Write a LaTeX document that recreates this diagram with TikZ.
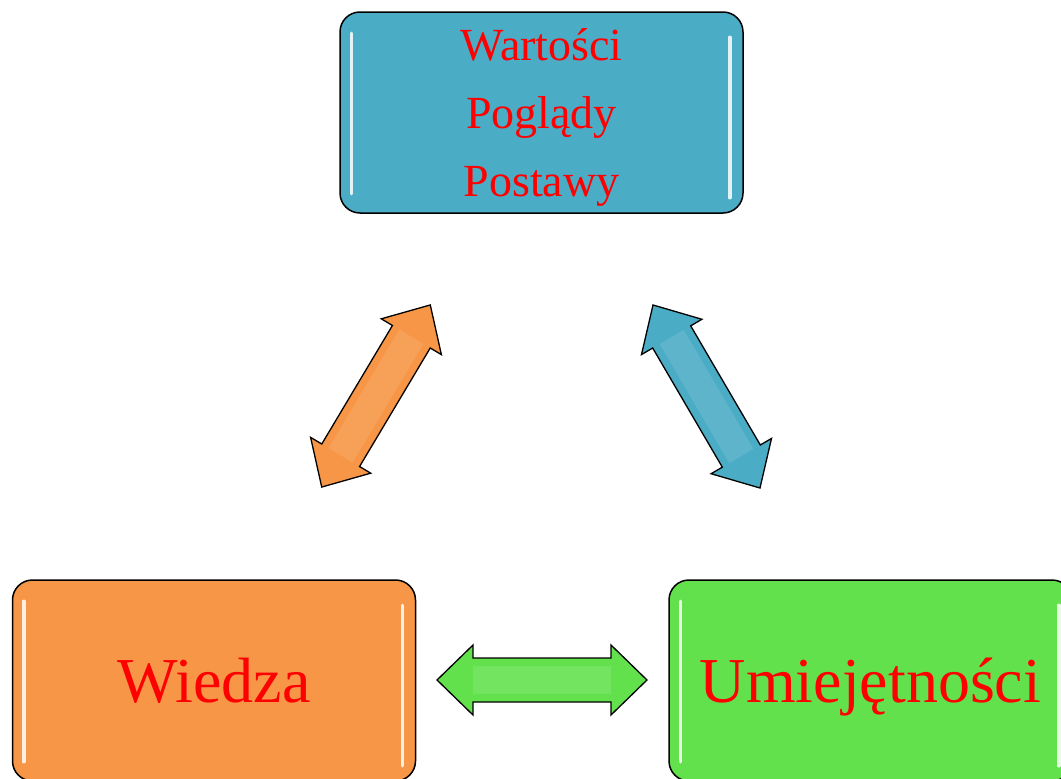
\documentclass[tikz,border=0pt]{standalone}
\usepackage{fontspec}
\setmainfont{Liberation Serif}
\usetikzlibrary{calc}
\definecolor{boxblue}{RGB}{75,172,198}
\definecolor{boxorange}{RGB}{246,150,70}
\definecolor{boxgreen}{RGB}{99,225,77}
\definecolor{txtred}{RGB}{255,0,0}
\tikzset{
  glossbox/.style={draw=black, line width=1.5pt, rounded corners=20pt,
    minimum width=403pt, minimum height=201pt, inner sep=0pt,
    text=txtred, align=center},
  shine/.style={draw=white, opacity=0.85, line width=3.5pt, line cap=round},
  blockarrow/.style={draw=black, line width=1.3pt, line join=miter},
}
% double block arrow: #1 length, centred at origin along x
\newcommand{\dblarrow}[3]{% length, head length, colour
  \fill[#3] (-#1/2,0) -- (-#1/2+#2,35) -- (-#1/2+#2,22) -- (#1/2-#2,22) -- (#1/2-#2,35)
    -- (#1/2,0) -- (#1/2-#2,-35) -- (#1/2-#2,-22) -- (-#1/2+#2,-22) -- (-#1/2+#2,-35) -- cycle;
  \fill[white, opacity=0.1] (-#1/2+#2,-14) rectangle (#1/2-#2,14);
  \draw[blockarrow] (-#1/2,0) -- (-#1/2+#2,35) -- (-#1/2+#2,22) -- (#1/2-#2,22) -- (#1/2-#2,35)
    -- (#1/2,0) -- (#1/2-#2,-35) -- (#1/2-#2,-22) -- (-#1/2+#2,-22) -- (-#1/2+#2,-35) -- cycle;
}
\begin{document}
\begin{tikzpicture}[x=1pt,y=-1pt]
\useasboundingbox (0,0) rectangle (1061,779);
\fill[white] (0,0) rectangle (1061,779);

% boxes
\node[glossbox, fill=boxblue, font=\fontsize{46}{68}\selectfont] (top) at (541.5,112.5)
  {\rule{0pt}{42pt}Wartości\\Poglądy\\Postawy};
\node[glossbox, fill=boxorange, font=\fontsize{64}{77}\selectfont, text height=43pt, text depth=0pt]
  (wiedza) at (214,680.5) {Wiedza};
\node[glossbox, fill=boxgreen, font=\fontsize{64}{77}\selectfont, text height=43pt, text depth=0pt]
  (umiej) at (870.5,680.5) {Umiejętności};

% highlights
\foreach \b in {top,wiedza,umiej}{
  \draw[shine] ($(\b.north west)+(12,22)$) -- ($(\b.south west)+(12,-20)$);
  \draw[shine] ($(\b.north east)+(-14,26)$) -- ($(\b.south east)+(-14,-16)$);
}

% arrows
\begin{scope}[shift={(376,396)}, rotate=59.2]
  \dblarrow{212}{37}{boxorange}
\end{scope}
\begin{scope}[shift={(706.5,396.5)}, rotate=-59.7]
  \dblarrow{212}{37}{boxblue}
\end{scope}
\begin{scope}[shift={(542,680)}]
  \dblarrow{210}{36}{boxgreen}
\end{scope}
\end{tikzpicture}
\end{document}
